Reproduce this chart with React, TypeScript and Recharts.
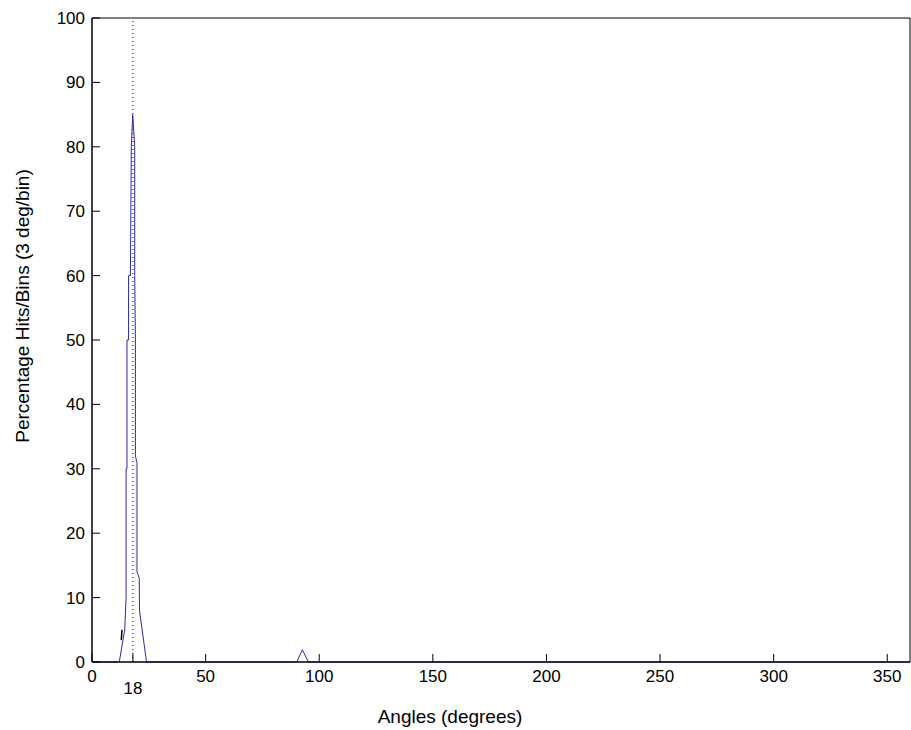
import React from "react"
import { LineChart, Line, XAxis, YAxis, ReferenceLine, ReferenceArea, Label } from "recharts"

// histogram outline, angle (deg) vs percentage hits
const angles = [0, 12, 14.4, 15.0, 15.0, 15.4, 15.4, 16.1, 16.1, 16.9, 17.3, 17.9, 18.8, 18.8, 19.1, 19.1, 19.8, 19.8, 20.8, 20.9, 24, 90.1, 92.6, 95.2, 360]
const hits = [0, 0, 5, 10, 30, 30, 50, 50, 60, 60, 80, 85, 80, 60, 50, 32, 31, 14, 13, 8, 0, 0, 1.9, 0, 0]

// small black mark left of the peak
const markAngles = [12.9, 13.2]
const markHits = [3.4, 5]

const xTicks = [0, 18, 50, 100, 150, 200, 250, 300, 350]
const yTicks = [0, 10, 20, 30, 40, 50, 60, 70, 80, 90, 100]
const peakAngle = 18

const data = angles.map((a, i) => ({ angle: a, hits: hits[i] }))
const markData = markAngles.map((a, i) => ({ angle: a, hits: markHits[i] }))

const FONT = "'Liberation Sans', Arial, sans-serif"

const XTick = (props: any) => {
  const { x, y, payload } = props
  const low = payload.value === peakAngle
  return (
    <g>
      <line x1={x} x2={x} y1={y} y2={y - 8} stroke="#000" />
      <text x={x} y={y + (low ? 32 : 20)} textAnchor="middle" fontSize={17} fontFamily={FONT} fill="#000">
        {payload.value}
      </text>
    </g>
  )
}

const YTick = (props: any) => {
  const { x, y, payload } = props
  return (
    <g>
      <line x1={x} x2={x + 8} y1={y} y2={y} stroke="#000" />
      <text x={x - 7} y={y + 6} textAnchor="end" fontSize={17} fontFamily={FONT} fill="#000">
        {payload.value}
      </text>
    </g>
  )
}

export default function App() {
  return (
    <div style={{ position: "absolute", left: 0, top: 0, width: 911, height: 730, background: "#fff" }}>
      <LineChart width={911} height={730} data={data} margin={{ top: 18, right: 1, left: 0, bottom: 0 }}>
        <XAxis
          dataKey="angle"
          type="number"
          domain={[0, 360]}
          ticks={xTicks}
          interval={0}
          height={68}
          tickLine={false}
          tickSize={0}
          tickMargin={0}
          axisLine={{ stroke: "#000" }}
          tick={<XTick />}
        >
          <Label
            content={(p: any) => (
              <text x={p.viewBox.x + 358} y={p.viewBox.y + 61} textAnchor="middle" fontSize={19} fontFamily={FONT} fill="#000">
                Angles (degrees)
              </text>
            )}
          />
        </XAxis>
        <YAxis
          type="number"
          domain={[0, 100]}
          ticks={yTicks}
          interval={0}
          width={92}
          tickLine={false}
          tickSize={0}
          tickMargin={0}
          axisLine={{ stroke: "#000" }}
          tick={<YTick />}
        >
          <Label
            content={(p: any) => {
              const lx = p.viewBox.x + 29
              const ly = p.viewBox.y + p.viewBox.height / 2 - 34
              return (
                <text x={lx} y={ly} transform={`rotate(-90, ${lx}, ${ly})`} textAnchor="middle" fontSize={19} fontFamily={FONT} fill="#000">
                  Percentage Hits/Bins (3 deg/bin)
                </text>
              )
            }}
          />
        </YAxis>
        <ReferenceArea x1={0} x2={360} y1={0} y2={100} fill="none" stroke="#000" strokeOpacity={1} />
        <ReferenceLine x={peakAngle} stroke="#000" strokeDasharray="1 3" />
        <Line type="linear" dataKey="hits" stroke="#2a2aa0" strokeWidth={1} dot={false} isAnimationActive={false} />
        <Line type="linear" data={markData} dataKey="hits" stroke="#000" strokeWidth={1.5} dot={false} isAnimationActive={false} />
      </LineChart>
    </div>
  )
}
